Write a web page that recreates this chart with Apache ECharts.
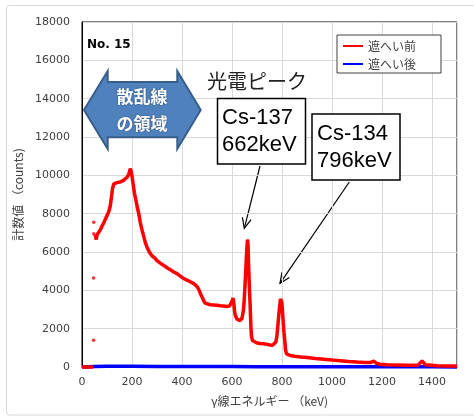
<!DOCTYPE html>
<html>
<head>
<meta charset="utf-8">
<script src="https://cdn.jsdelivr.net/npm/echarts@6/dist/echarts.min.js"></script>
<style>
  html, body { margin: 0; padding: 0; background: #fff; }
  #chart { width: 474px; height: 416px; }
</style>
</head>
<body>
<div id="chart"></div>
<script>
// 遮へい前 (before shielding) - energy keV / counts
const beforeEnergy = [0, 10, 20, 30, 45, 48,
  53, 55, 57, 60, 65, 73, 80, 88, 93, 100, 107, 113, 118, 122, 127, 133, 140, 147, 153, 160,
  167, 173, 180, 187, 193, 197, 200, 205, 210, 215, 220, 227, 233, 240, 247, 253, 260, 270,
  280, 290, 300, 313, 327, 340, 353, 367, 380, 393, 407, 420, 433, 447, 460, 467, 473, 480,
  487, 493, 500, 513, 527, 540, 553, 567, 580, 590, 597, 601, 604, 607, 610, 613, 620, 627,
  633, 640, 645, 648, 651, 654, 657, 660, 662, 664, 666, 668, 670, 672, 674, 676, 678, 682,
  687, 700, 713, 727, 740, 753, 763, 770, 775, 779, 783, 787, 791, 794, 796, 799, 802, 805,
  808, 811, 814, 818, 825, 833, 850, 875, 900, 933, 967, 1000, 1033, 1067, 1100, 1133, 1153,
  1160, 1167, 1173, 1180, 1193, 1220, 1260, 1300, 1330, 1345, 1353, 1360, 1366, 1373, 1380,
  1420, 1460, 1500]
const beforeCounts = [0, 0, 0, 0, 0, null,
  6900, 7000, 6650, 6900, 7000, 7150, 7350, 7550, 7700, 7900, 8100, 8400, 8900, 9300, 9550, 9650, 9620, 9700, 9650, 9680,
  9750, 9800, 9900, 10050, 10350, 10200, 9950, 9500, 9050, 8750, 8400, 8000, 7550, 7150, 6800, 6500, 6250, 5980,
  5800, 5700, 5550, 5420, 5300, 5180, 5080, 4960, 4870, 4740, 4620, 4530, 4450, 4350, 4200, 4050, 3850, 3650,
  3450, 3330, 3300, 3250, 3240, 3220, 3200, 3180, 3160, 3180, 3250, 3450, 3600, 3350, 2950, 2700, 2500, 2400,
  2420, 2550, 2900, 3300, 4000, 4800, 5600, 6300, 6650, 6400, 5500, 4700, 4000, 3400, 2700, 2000, 1600, 1380,
  1300, 1250, 1230, 1210, 1180, 1150, 1140, 1200, 1300, 1550, 2100, 2700, 3200, 3550, 3650, 3400, 2900, 2300,
  1800, 1400, 900, 680, 620, 600, 560, 520, 490, 440, 400, 360, 330, 290, 260, 240, 230,
  260, 310, 270, 180, 140, 120, 110, 90, 90, 110, 200, 320, 260, 120, 70,
  60, 55, 55]
// stray points near the low-energy cutoff
const strayEnergy = [46, 46, 47, 47]
const strayCounts = [1400, 4650, 7550, 6950]

// 遮へい後 (after shielding)
const afterEnergy = [0, 50, 100, 200, 300, 400, 500, 600, 700, 800, 900, 1000, 1100, 1200, 1300, 1400, 1500]
const afterCounts = [0, 30, 40, 35, 30, 25, 20, 20, 15, 15, 12, 10, 10, 8, 8, 8, 5]

const xTicks = { min: 0, max: 1500, interval: 200 }
const yTicks = { min: 0, max: 18000, interval: 2000 }

const pair = (xs, ys) => xs.map((x, i) => [x, ys[i] === null ? '-' : ys[i]])

// arrow line with open head
function arrow(x1, y1, x2, y2) {
  const a = Math.atan2(y2 - y1, x2 - x1)
  const len = 11
  const sp = 0.42
  const h1 = [x2 - len * Math.cos(a - sp), y2 - len * Math.sin(a - sp)]
  const h2 = [x2 - len * Math.cos(a + sp), y2 - len * Math.sin(a + sp)]
  return {
    type: 'group',
    children: [
      { type: 'line', shape: { x1: x1, y1: y1, x2: x2, y2: y2 }, style: { stroke: '#000', lineWidth: 1.2 } },
      { type: 'polyline', shape: { points: [h1, [x2, y2], h2] }, style: { stroke: '#000', lineWidth: 1.2, fill: null } }
    ]
  }
}

const chart = echarts.init(document.getElementById('chart'))
const font = 'DejaVu Sans, Verdana, sans-serif'
const jp = '"Noto Sans CJK JP", sans-serif'

chart.setOption({
  animation: false,
  backgroundColor: '#fff',
  grid: {
    left: 82,
    right: 17,
    top: 22,
    bottom: 49,
    show: true,
    borderColor: '#000',
    borderWidth: 1
  },
  legend: {
    data: [
      { name: '遮へい前', icon: 'rect' },
      { name: '遮へい後', icon: 'rect' }
    ],
    orient: 'vertical',
    left: 337,
    top: 35,
    itemWidth: 20,
    itemHeight: 2,
    itemGap: 6,
    itemTextGap: 8,
    padding: [5, 25, 3, 6],
    borderColor: '#404040',
    borderWidth: 1,
    backgroundColor: '#fff',
    selectedMode: false,
    textStyle: { fontFamily: jp, fontSize: 12, color: '#404040' }
  },
  xAxis: {
    type: 'value',
    min: xTicks.min,
    max: xTicks.max,
    interval: xTicks.interval,
    name: 'γ線エネルギー （keV)',
    nameLocation: 'middle',
    nameGap: 28,
    nameTextStyle: { fontFamily: jp, fontSize: 12, color: '#404040' },
    axisLine: { show: true, lineStyle: { color: '#000' } },
    axisTick: { show: false },
    axisLabel: {
      showMaxLabel: false, margin: 10, fontFamily: font, fontSize: 11, color: '#404040',
      formatter: v => String(v)
    },
    splitLine: { show: true, lineStyle: { color: '#d9d9d9', width: 1 } }
  },
  yAxis: {
    type: 'value',
    min: yTicks.min,
    max: yTicks.max,
    interval: yTicks.interval,
    name: '計数値 （counts)',
    nameLocation: 'middle',
    nameRotate: 90,
    nameGap: 55,
    nameTextStyle: { fontFamily: jp, fontSize: 12, color: '#404040' },
    axisLine: { show: true, lineStyle: { color: '#000' } },
    axisTick: { show: false },
    axisLabel: {
      margin: 12, fontFamily: font, fontSize: 11, color: '#404040',
      formatter: v => String(v)
    },
    splitLine: { show: true, lineStyle: { color: '#d9d9d9', width: 1 } }
  },
  series: [
    {
      name: '遮へい後',
      type: 'line',
      data: pair(afterEnergy, afterCounts),
      showSymbol: false,
      clip: false,
      color: '#0000ff',
      lineStyle: { color: '#0000ff', width: 3.5 },
      z: 2
    },
    {
      name: '遮へい前',
      type: 'line',
      data: pair(beforeEnergy, beforeCounts),
      showSymbol: false,
      connectNulls: false,
      clip: false,
      color: '#ff0000',
      lineStyle: { color: '#ff0000', width: 3.5 },
      z: 3
    },
    {
      name: '遮へい前',
      type: 'scatter',
      data: pair(strayEnergy, strayCounts),
      symbolSize: 3.5,
      color: '#ff0000',
      z: 3
    }
  ],
  graphic: [
    {
      type: 'rect',
      shape: { x: 6.5, y: 5.5, width: 470, height: 409.5, r: 3 },
      style: { fill: null, stroke: '#d9d9d9', lineWidth: 1 },
      z: -1
    },
    {
      type: 'text',
      left: 87,
      top: 39,
      style: { text: 'No. 15', fontFamily: font, fontSize: 12, fontWeight: 'bold', fill: '#000' }
    },
    {
      type: 'polygon',
      shape: {
        points: [[84, 110], [107.7, 71], [107.7, 82], [177.3, 82], [177.3, 71], [200.7, 110],
          [177.3, 149], [177.3, 137.3], [107.7, 137.3], [107.7, 149]]
      },
      style: { fill: '#4f81bd', stroke: '#385d8a', lineWidth: 2 },
      z: 10
    },
    {
      type: 'text',
      x: 142,
      y: 97,
      style: {
        text: '散乱線', fontFamily: jp, fontSize: 17, fontWeight: 'bold', fill: '#fff',
        align: 'center', verticalAlign: 'middle', textShadowColor: 'rgba(0,0,0,0.4)', textShadowBlur: 2
      },
      z: 11
    },
    {
      type: 'text',
      x: 142,
      y: 124,
      style: {
        text: 'の領域', fontFamily: jp, fontSize: 17, fontWeight: 'bold', fill: '#fff',
        align: 'center', verticalAlign: 'middle', textShadowColor: 'rgba(0,0,0,0.4)', textShadowBlur: 2
      },
      z: 11
    },
    {
      type: 'text',
      x: 207,
      y: 81,
      style: { text: '光電ピーク', fontFamily: jp, fontSize: 20, fill: '#222', verticalAlign: 'middle' },
      z: 10
    },
    {
      type: 'rect',
      shape: { x: 217.5, y: 98.5, width: 88, height: 65.5 },
      style: { fill: '#fff', stroke: '#000', lineWidth: 1.5 },
      z: 10
    },
    {
      type: 'text',
      x: 222,
      y: 131,
      style: {
        text: 'Cs-137\n662keV', fontFamily: 'Liberation Sans, Arial, sans-serif', fontSize: 22,
        lineHeight: 27, fill: '#000', verticalAlign: 'middle'
      },
      z: 11
    },
    {
      type: 'rect',
      shape: { x: 312, y: 114, width: 88, height: 66 },
      style: { fill: '#fff', stroke: '#000', lineWidth: 1.5 },
      z: 10
    },
    {
      type: 'text',
      x: 317,
      y: 147,
      style: {
        text: 'Cs-134\n796keV', fontFamily: 'Liberation Sans, Arial, sans-serif', fontSize: 22,
        lineHeight: 27, fill: '#000', verticalAlign: 'middle'
      },
      z: 11
    },
    Object.assign(arrow(260, 166, 244.3, 228.3), { z: 10 }),
    Object.assign(arrow(349.3, 182, 280, 283.3), { z: 10 })
  ]
})
</script>
</body>
</html>
